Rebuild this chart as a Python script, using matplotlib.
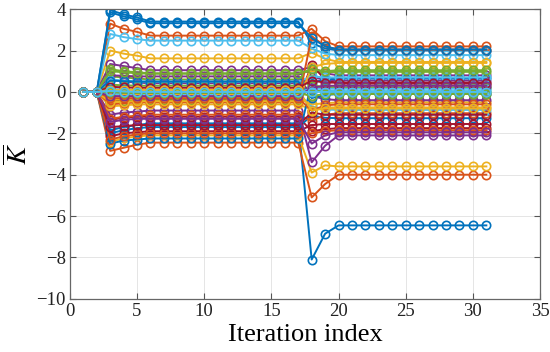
import numpy as np
import matplotlib
matplotlib.use("Agg")
import matplotlib.pyplot as plt

plt.rcParams['mathtext.fontset'] = 'stix'

# Per-series values
# value at x=3, x=4, x=5, plateau x=6..17, x=18, x=19, plateau x=20..31
k_x3 = [3.95, 3.3, 2.0, 1.35, 1.1, 2.8, -0.45, -1.85, -2.85, -2.4, -1.1, 0.75, 0.15, -1.35,
        -2.0, -1.3, -0.7, 0.6, 0.35, -0.1, -2.15, -2.5, -2.3, -0.4, 0.8, -0.5, 0.6, -1.7,
        0.55, -0.6, -0.5, -1.45, 1.0, 0.0, 0.25, 3.85, -0.3, 0.1, -0.2, 0.0, 0.05]
k_x4 = [3.75, 3.05, 1.85, 1.25, 1.0, 2.65, -0.42, -1.7, -2.7, -2.25, -1.0, 0.7, 0.12, -1.25,
        -1.85, -1.2, -0.65, 0.5, 0.32, -0.1, -2.0, -2.35, -2.15, -0.35, 0.78, -0.45, 0.55, -1.65,
        0.52, -0.55, -0.47, -1.35, 0.95, 0.0, 0.22, 3.65, -0.3, 0.1, -0.2, -0.05, 0.02]
k_x5 = [3.6, 2.9, 1.75, 1.15, 0.95, 2.55, -0.4, -1.6, -2.55, -2.15, -0.95, 0.65, 0.1, -1.2,
        -1.75, -1.15, -0.6, 0.45, 0.3, -0.1, -1.95, -2.3, -2.05, -0.32, 0.75, -0.42, 0.5, -1.6,
        0.5, -0.5, -0.45, -1.3, 0.9, 0.0, 0.2, 3.5, -0.3, 0.1, -0.2, -0.05, 0.0]
k_plat1 = [3.4, 2.72, 1.62, 1.05, 0.9, 2.48, -0.38, -1.52, -2.45, -2.1, -0.9, 0.6, 0.1, -1.2,
           -1.7, -1.1, -0.6, 0.42, 0.3, -0.1, -1.9, -2.25, -2.0, -0.3, 0.75, -0.4, 0.5, -1.6,
           0.5, -0.5, -0.45, -1.3, 0.88, 0.0, 0.2, 3.32, -0.3, 0.1, -0.2, -0.05, 0.0]
k_x18 = [2.35, 3.05, 1.9, 1.2, 1.0, 2.1, 1.3, -8.1, -5.1, -3.9, -3.4, 0.3, 0.05, -1.9,
         -1.15, -1.4, -0.85, 0.7, 0.1, -0.7, -1.6, 0.45, -2.0, -0.6, -0.2, 0.3, 0.75, -1.0,
         -0.3, 2.7, 1.2, -2.5, 1.1, 0.15, 0.55, 2.6, -0.9, -0.9, 0.2, -0.2, 0.0]
k_x19 = [2.1, 2.45, 1.6, 0.9, 0.95, 1.85, 0.6, -6.85, -4.45, -3.55, -2.6, 0.2, 0.05, -1.8,
         -1.25, -1.1, -0.75, 0.6, 0.0, -0.85, -1.55, 0.6, -1.9, -0.55, -0.35, 0.25, 0.7, -1.1,
         -0.15, 2.2, 1.35, -2.1, 1.0, 0.15, 0.45, 2.2, -0.65, -0.8, 0.3, -0.1, 0.0]
k_plat2 = [2.0, 2.2, 1.45, 0.8, 0.97, 1.78, 0.4, -6.45, -4.0, -3.6, -2.1, 0.2, 0.04, -1.75,
           -1.27, -1.03, -0.75, 0.55, 0.0, -0.87, -1.55, 0.65, -1.85, -0.5, -0.4, 0.22, 0.7, -1.1,
           -0.1, 2.05, 1.4, -1.95, 1.05, 0.15, 0.45, 2.05, -0.6, -0.8, 0.3, -0.1, 0.0]

colors = ["#0072BD", "#D95319", "#EDB120", "#7E2F8E", "#77AC30", "#4DBEEE", "#A2142F"]

iters = np.arange(1, 32)

fig = plt.figure(figsize=(5.5, 3.52), dpi=100)
ax = fig.add_axes([0.127, 0.151, 0.855, 0.823])

for i in range(len(k_x3)):
    y = ([0.0, 0.0, k_x3[i], k_x4[i], k_x5[i]] + [k_plat1[i]] * 12 +
         [k_x18[i], k_x19[i]] + [k_plat2[i]] * 12)
    ax.plot(iters, y, '-o', color=colors[i % 7], lw=1.4, ms=6,
            mfc='none', mew=1.2)

ax.set_xlim(0, 35)
ax.set_ylim(-10, 4)
ax.set_xticks(np.arange(0, 36, 5))
ax.set_yticks(np.arange(-10, 5, 2))
ax.set_yticklabels([("\u2212%d" % -v) if v < 0 else "%d" % v for v in range(-10, 5, 2)])
ax.grid(True, color='#e0e0e0', lw=0.6)
ax.set_axisbelow(True)
ax.tick_params(direction='in', top=True, right=True, length=4, width=0.8,
               colors='#555555', labelcolor='#222222', labelsize=13.5, pad=3)
for sp in ax.spines.values():
    sp.set_color('#666666')
    sp.set_linewidth(0.9)
for lab in ax.get_xticklabels() + ax.get_yticklabels():
    lab.set_fontfamily('Liberation Serif')

ax.set_xlabel('Iteration index', fontfamily='Liberation Serif', fontsize=19, labelpad=3)
ax.set_ylabel(r'$\overline{K}$', fontsize=20, labelpad=2)

fig.savefig('out.png', dpi=100)
